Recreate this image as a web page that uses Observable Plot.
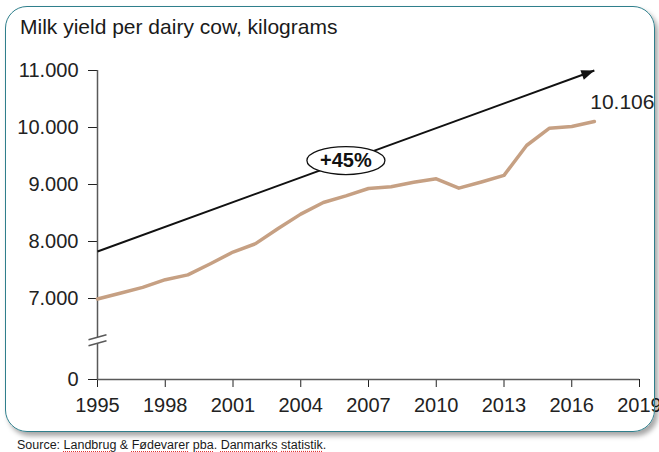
<!DOCTYPE html>
<html>
<head>
<meta charset="utf-8">
<script src="https://cdn.jsdelivr.net/npm/d3@7"></script>
<script src="https://cdn.jsdelivr.net/npm/@observablehq/plot@0.6"></script>
<style>
  html, body { margin: 0; padding: 0; background: #fff; }
  #wrap { position: relative; width: 659px; height: 452px; overflow: hidden; font-family: "Liberation Sans", Arial, sans-serif; }
  #frame { position: absolute; left: 5px; top: 6px; width: 648px; height: 424px; border: 1.5px solid #2f7f8c; border-radius: 22px; box-shadow: 3px 4px 5px rgba(0,0,0,0.35); pointer-events: none; z-index: 2; }
  #title { height: 30px; padding: 15px 0 0 20px; font-size: 21px; line-height: 24px; color: #1a1a1a; }
  #source { height: 13px; padding-left: 17px; font-size: 12.5px; line-height: 12px; color: #1a1a1a; }
  #source .sp { text-decoration: underline dotted #e03030; text-underline-offset: 2px; }
</style>
</head>
<body>
<div id="wrap">
  <div id="frame"></div>
  <div id="title">Milk yield per dairy cow, kilograms</div>
  <div id="chart"></div>
  <div id="source">Source: <span class="sp">Landbrug</span> &amp; <span class="sp">Fødevarer</span> <span class="sp">pba</span>. <span class="sp">Danmarks</span> <span class="sp">statistik</span>.</div>
</div>
<script>
// ---- data ----
const years = [1995, 1996, 1997, 1998, 1999, 2000, 2001, 2002, 2003, 2004, 2005, 2006,
               2007, 2008, 2009, 2010, 2011, 2012, 2013, 2014, 2015, 2016, 2017];
const yieldKg = [6953, 7093, 7195, 7330, 7415, 7610, 7815, 7962, 8228, 8480, 8684, 8801,
                 8930, 8962, 9038, 9100, 8936, 9044, 9161, 9684, 9985, 10017, 10106];
const xTicks = [1995, 1998, 2001, 2004, 2007, 2010, 2013, 2016, 2019];
const yTicks = [0, 7000, 8000, 9000, 10000, 11000];
const trendStart = {year: 1995, kg: 7825};
const trendEnd = {year: 2017, kg: 11000};
const trendLabel = {year: 2006, kg: 9420, text: "+45%"};
const axisBreak = {year: 1995, kg: 3400};

// ---- layout ----
const W = 659, H = 394;
const mL = 97, mR = 20, mT = 25, mB = 60;
const yDomain = [0, 7000, 11000];
const yRange = [H - mB, 253, mT];
const xDomain = [1995, 2019];

const dk = d3.formatLocale({decimal: ",", thousands: ".", grouping: [3], currency: ["", ""]}).format(",");
const rows = years.map((y, i) => ({year: y, kg: yieldKg[i]}));
const last = rows[rows.length - 1];

// angle of trend arrow in screen space (same scale config as the plot)
const xs = d3.scaleLinear(xDomain, [mL, W - mR]);
const ys = d3.scaleLinear(yDomain, yRange);
const angle = Math.atan2(ys(trendEnd.kg) - ys(trendStart.kg), xs(trendEnd.year) - xs(trendStart.year)) * 180 / Math.PI;

const ellipse = {draw(ctx) {
  const rx = 39, ry = 14, k = 0.5523;
  ctx.moveTo(rx, 0);
  ctx.bezierCurveTo(rx, ry * k, rx * k, ry, 0, ry);
  ctx.bezierCurveTo(-rx * k, ry, -rx, ry * k, -rx, 0);
  ctx.bezierCurveTo(-rx, -ry * k, -rx * k, -ry, 0, -ry);
  ctx.bezierCurveTo(rx * k, -ry, rx, -ry * k, rx, 0);
  ctx.closePath();
}};
const head = {draw(ctx) {
  ctx.moveTo(0, 0); ctx.lineTo(-13, -5); ctx.lineTo(-13, 5); ctx.closePath();
}};
const breakFill = {draw(ctx) {
  ctx.moveTo(-9, -0.5); ctx.lineTo(9, -5.5); ctx.lineTo(9, 0.5); ctx.lineTo(-9, 5.5); ctx.closePath();
}};
const breakLines = {draw(ctx) {
  ctx.moveTo(-9, -0.5); ctx.lineTo(9, -5.5);
  ctx.moveTo(-9, 5.5); ctx.lineTo(9, 0.5);
}};

const axisColor = "#595959";

const chart = Plot.plot({
  width: W, height: H,
  marginLeft: mL, marginRight: mR, marginTop: mT, marginBottom: mB,
  style: {fontFamily: '"Liberation Sans", Arial, sans-serif', fontSize: "20px", color: "#222", background: "transparent", overflow: "visible"},
  x: {domain: xDomain, ticks: xTicks, tickSize: 8, tickPadding: 10, tickFormat: d => `${d}`, label: null},
  y: {type: "linear", domain: yDomain, range: yRange, ticks: yTicks, tickSize: 9, tickPadding: 10, tickFormat: d => dk(d), label: null},
  marks: [
    Plot.ruleY([0], {x1: xDomain[0], x2: xDomain[1], stroke: axisColor, strokeWidth: 1.5}),
    Plot.ruleX([xDomain[0]], {y1: 0, y2: 11000, stroke: axisColor, strokeWidth: 1.5}),
    Plot.dot([axisBreak], {x: "year", y: "kg", symbol: breakFill, fill: "white", stroke: "none"}),
    Plot.dot([axisBreak], {x: "year", y: "kg", symbol: breakLines, fill: "none", stroke: axisColor, strokeWidth: 1.5}),
    Plot.link([{x1: trendStart.year, y1: trendStart.kg, x2: trendEnd.year, y2: trendEnd.kg}],
      {x1: "x1", y1: "y1", x2: "x2", y2: "y2", stroke: "#111", strokeWidth: 2}),
    Plot.dot([trendEnd], {x: "year", y: "kg", symbol: head, fill: "#111", stroke: "none", rotate: angle}),
    Plot.line(rows, {x: "year", y: "kg", stroke: "#c6a083", strokeWidth: 3.5, strokeLinejoin: "round"}),
    Plot.dot([trendLabel], {x: "year", y: "kg", symbol: ellipse, fill: "white", stroke: "#111", strokeWidth: 1.3}),
    Plot.text([trendLabel], {x: "year", y: "kg", text: "text", fontWeight: "bold", fontSize: 20, fill: "#111"}),
    Plot.text([last], {x: "year", y: "kg", text: d => dk(d.kg), dx: 28, dy: -19, fontSize: 21, fill: "#222"})
  ]
});
document.getElementById("chart").appendChild(chart);
</script>
</body>
</html>
